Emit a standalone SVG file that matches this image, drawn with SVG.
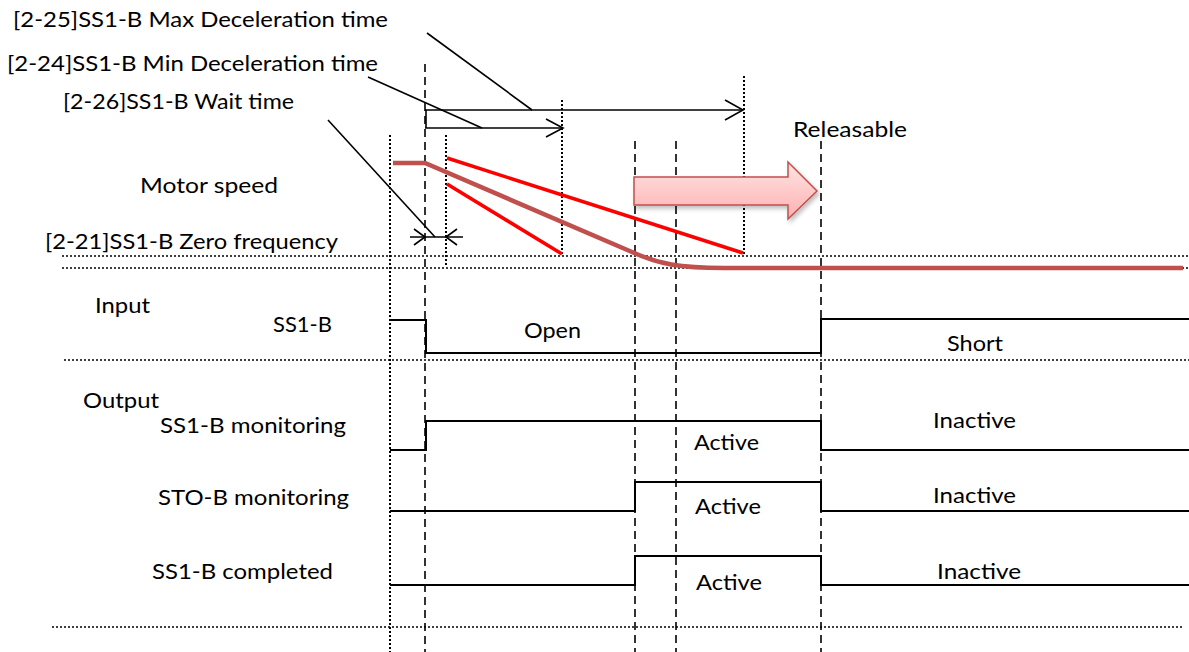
<svg xmlns="http://www.w3.org/2000/svg" width="1189" height="652" viewBox="0 0 1189 652">
<style>
text{font-family:Lato,"Liberation Sans",sans-serif;font-size:22px;fill:#000}
.dash{stroke:#000;stroke-width:1.6;stroke-dasharray:8 5;fill:none}
.dot{stroke:#000;stroke-width:2;stroke-dasharray:2 2;fill:none}
.hdot{stroke:#000;stroke-width:1.6;stroke-dasharray:2 2;fill:none}
.sig{stroke:#000;stroke-width:2;fill:none}
.thin{stroke:#000;stroke-width:1.6;fill:none}
.red{stroke:#FF0000;stroke-width:3.5;fill:none}
</style>
<defs>
<linearGradient id="pink" x1="0" y1="0" x2="0" y2="1">
<stop offset="0" stop-color="#FFE4E4"/>
<stop offset="1" stop-color="#FFB0B0"/>
</linearGradient>
<filter id="sh" x="-10%" y="-20%" width="130%" height="160%">
<feDropShadow dx="2" dy="3" stdDeviation="2" flood-color="#000" flood-opacity="0.25"/>
</filter>
</defs>

<g id="grid">
<line class="hdot" x1="62" y1="256" x2="1189" y2="256"/>
<line class="hdot" x1="62" y1="268" x2="1189" y2="268"/>
<line class="hdot" x1="64" y1="360" x2="1189" y2="360"/>
<line class="hdot" x1="52" y1="627" x2="1183" y2="627"/>
<line class="dot" x1="390" y1="135" x2="390" y2="652"/>
<line class="dot" x1="446" y1="135" x2="446" y2="265"/>
<line class="dot" x1="562" y1="100" x2="562" y2="255"/>
<line class="dot" x1="744" y1="76" x2="744" y2="255"/>
<line class="dash" x1="425" y1="64" x2="425" y2="652"/>
<line class="dash" x1="635" y1="141" x2="635" y2="652"/>
<line class="dash" x1="676" y1="141" x2="676" y2="652"/>
<line class="dash" x1="821" y1="141" x2="821" y2="652"/>
</g>

<g id="speed">
<path d="M393,163 L425,163 L632,252 C658,264 680,268 724,268 L1183,268" stroke="#C0504D" stroke-width="4.5" fill="none"/>
<line class="red" x1="447" y1="158" x2="743" y2="253"/>
<line class="red" x1="447" y1="184" x2="562" y2="254"/>
</g>

<g id="releasable-arrow">
<path d="M634,177 L788,177 L788,162 L817,191 L788,219 L788,205 L634,205 Z" fill="url(#pink)" stroke="#C0504D" stroke-width="1.5" filter="url(#sh)"/>
</g>

<g id="connectors">
<line class="thin" x1="425" y1="110" x2="743" y2="110"/>
<polyline class="thin" points="725,100 743,110 725,120"/>
<line class="thin" x1="426" y1="110" x2="426" y2="128"/>
<line class="thin" x1="425" y1="128" x2="562" y2="128"/>
<polyline class="thin" points="546,119 563,128 546,137"/>
<line class="thin" x1="427" y1="33" x2="532" y2="110"/>
<line class="thin" x1="368" y1="77" x2="482" y2="128"/>
<line class="thin" x1="328" y1="120" x2="435" y2="237"/>
<line class="thin" x1="410" y1="237" x2="463" y2="237"/>
<polyline class="thin" points="414,229 425,237 414,245"/>
<polyline class="thin" points="457,229 446,237 457,245"/>
</g>

<g id="signals">
<polyline class="sig" points="390,320 426,320 426,353 821,353 821,319 1189,319"/>
<polyline class="sig" points="390,450 426,450 426,421 821,421 821,450 1189,450"/>
<polyline class="sig" points="390,511 635,511 635,482 821,482 821,511 1189,511"/>
<polyline class="sig" points="390,585 635,585 635,556 821,556 821,585 1189,585"/>
</g>

<g id="labels">
<text x="13" y="27" textLength="375" lengthAdjust="spacingAndGlyphs">[2-25]SS1-B Max Deceleration time</text>
<text x="7" y="71" textLength="371" lengthAdjust="spacingAndGlyphs">[2-24]SS1-B Min Deceleration time</text>
<text x="63" y="109" textLength="231" lengthAdjust="spacingAndGlyphs">[2-26]SS1-B Wait time</text>
<text x="140" y="193" textLength="138" lengthAdjust="spacingAndGlyphs">Motor speed</text>
<text x="45" y="249" textLength="293" lengthAdjust="spacingAndGlyphs">[2-21]SS1-B Zero frequency</text>
<text x="793" y="137" textLength="114" lengthAdjust="spacingAndGlyphs">Releasable</text>
<text x="95" y="313" textLength="55" lengthAdjust="spacingAndGlyphs">Input</text>
<text x="273" y="332" textLength="59" lengthAdjust="spacingAndGlyphs">SS1-B</text>
<text x="524" y="338" textLength="57" lengthAdjust="spacingAndGlyphs">Open</text>
<text x="947" y="351" textLength="56" lengthAdjust="spacingAndGlyphs">Short</text>
<text x="83" y="408" textLength="76" lengthAdjust="spacingAndGlyphs">Output</text>
<text x="160" y="433" textLength="186" lengthAdjust="spacingAndGlyphs">SS1-B monitoring</text>
<text x="694" y="450" textLength="65" lengthAdjust="spacingAndGlyphs">Active</text>
<text x="933" y="428" textLength="83" lengthAdjust="spacingAndGlyphs">Inactive</text>
<text x="158" y="505" textLength="191" lengthAdjust="spacingAndGlyphs">STO-B monitoring</text>
<text x="695" y="514" textLength="66" lengthAdjust="spacingAndGlyphs">Active</text>
<text x="933" y="503" textLength="83" lengthAdjust="spacingAndGlyphs">Inactive</text>
<text x="152" y="579" textLength="181" lengthAdjust="spacingAndGlyphs">SS1-B completed</text>
<text x="696" y="590" textLength="66" lengthAdjust="spacingAndGlyphs">Active</text>
<text x="937" y="579" textLength="84" lengthAdjust="spacingAndGlyphs">Inactive</text>
</g>
</svg>
